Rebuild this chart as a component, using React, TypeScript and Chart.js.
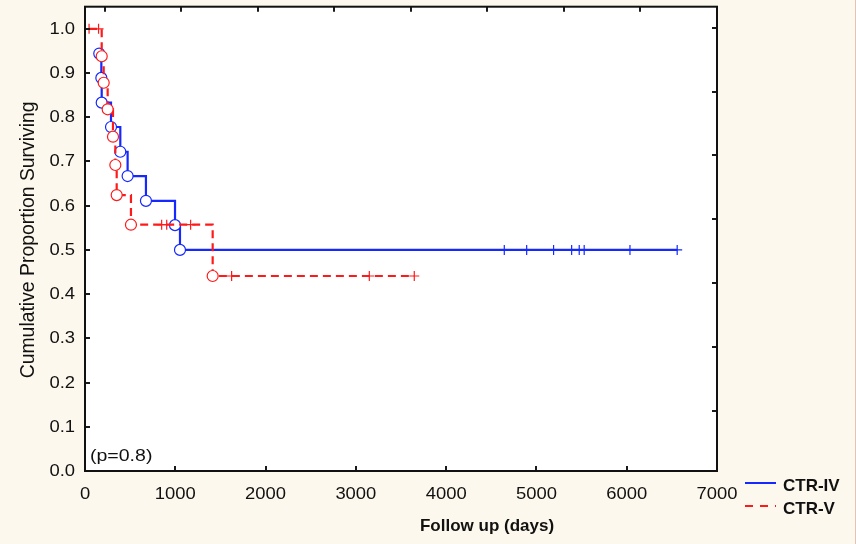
import React, { useEffect, useRef } from "react";
import { Chart, registerables } from "chart.js";

Chart.register(...registerables);

// Kaplan-Meier estimates: follow-up day, survival proportion, censored flag (1 = censored "+")
const ivDays = [158, 181, 185, 288, 391, 472, 675, 997, 1052, 4644, 4892, 5190, 5390, 5474, 5529, 6036, 6559];
const ivSurvival = [0.944, 0.889, 0.833, 0.778, 0.722, 0.667, 0.611, 0.556, 0.5, 0.5, 0.5, 0.5, 0.5, 0.5, 0.5, 0.5, 0.5];
const ivCensored = [0, 0, 0, 0, 0, 0, 0, 0, 0, 1, 1, 1, 1, 1, 1, 1, 1];

const vDays = [45, 150, 185, 207, 251, 310, 336, 351, 509, 849, 905, 1170, 1414, 1624, 3149, 3647];
const vSurvival = [1, 1, 0.938, 0.878, 0.818, 0.756, 0.692, 0.624, 0.557, 0.557, 0.557, 0.557, 0.441, 0.441, 0.441, 0.441];
const vCensored = [1, 1, 0, 0, 0, 0, 0, 0, 0, 1, 1, 1, 0, 1, 1, 1];

const seriesNames = ["CTR-IV", "CTR-V"];
const seriesColors = ["#1428ff", "#ff1a1a"];

const xTickValues = [0, 1000, 2000, 3000, 4000, 5000, 6000, 7000];
const yTickValues = [0, 0.1, 0.2, 0.3, 0.4, 0.5, 0.6, 0.7, 0.8, 0.9, 1.0];
// tick marks of the opposite (top / right) frame axes
const topTickValues = [0, 1, 2, 3, 4, 5, 6, 7];
const rightTickValues = [0, 1, 2, 3, 4, 5, 6];

const xTitle = "Follow up (days)";
const yTitle = "Cumulative Proportion Surviving";
const pValueLabel = "(p=0.8)";

const PAGE_BG = "#fdf8ed";
const TEXT = "#111111";

function drawText(
  ctx: CanvasRenderingContext2D,
  text: string,
  x: number,
  y: number,
  font: string,
  align: CanvasTextAlign,
  sx = 1
) {
  ctx.save();
  ctx.translate(x, y);
  ctx.scale(sx, 1);
  ctx.font = font;
  ctx.fillStyle = TEXT;
  ctx.textAlign = align;
  ctx.textBaseline = "alphabetic";
  ctx.fillText(text, 0, 0);
  ctx.restore();
}

const framePlugin = {
  id: "frame",
  beforeDraw(chart: any) {
    const { ctx, width, height, chartArea: a } = chart;
    ctx.save();
    ctx.fillStyle = PAGE_BG;
    ctx.fillRect(0, 0, width, height);
    ctx.fillStyle = "#e2c4b6";
    ctx.fillRect(width - 1, 0, 1, height);
    ctx.fillStyle = "#ffffff";
    ctx.fillRect(a.left, a.top, a.right - a.left, a.bottom - a.top);
    ctx.restore();
  },
  afterDraw(chart: any) {
    const { ctx, chartArea: a, scales } = chart;
    const x = scales.x;
    const y = scales.y;
    const xt = scales.xTop;
    const yr = scales.yRight;
    const tickLen = 5;

    ctx.save();
    // inward tick marks
    ctx.strokeStyle = "#1a1a1a";
    ctx.lineWidth = 2;
    ctx.beginPath();
    yTickValues.forEach((v) => {
      const py = Math.round(y.getPixelForValue(v));
      ctx.moveTo(a.left, py);
      ctx.lineTo(a.left + tickLen, py);
    });
    xTickValues.forEach((v) => {
      const px = Math.round(x.getPixelForValue(v));
      ctx.moveTo(px, a.bottom);
      ctx.lineTo(px, a.bottom - tickLen);
    });
    topTickValues.forEach((v) => {
      const px = Math.round(xt.getPixelForValue(v));
      ctx.moveTo(px, a.top);
      ctx.lineTo(px, a.top + tickLen);
    });
    rightTickValues.forEach((v) => {
      const py = Math.round(yr.getPixelForValue(v));
      ctx.moveTo(a.right, py);
      ctx.lineTo(a.right - tickLen, py);
    });
    ctx.stroke();

    // plot frame
    ctx.strokeStyle = "#111111";
    ctx.lineWidth = 2;
    ctx.strokeRect(a.left, a.top, a.right - a.left, a.bottom - a.top);
    ctx.restore();

    // tick labels
    const tickFont = "16px 'Liberation Sans', Arial, sans-serif";
    yTickValues.forEach((v) => {
      drawText(ctx, v.toFixed(1), a.left - 10, y.getPixelForValue(v) + 5, tickFont, "right", 1.15);
    });
    xTickValues.forEach((v) => {
      drawText(ctx, String(v), x.getPixelForValue(v), a.bottom + 28, tickFont, "center", 1.15);
    });

    // annotation and axis titles
    drawText(ctx, pValueLabel, a.left + 5, a.bottom - 10, "16px 'Liberation Sans', Arial, sans-serif", "left", 1.22);
    drawText(ctx, xTitle, (a.left + a.right) / 2 + 86, 531, "bold 17px 'Liberation Sans', Arial, sans-serif", "center");

    ctx.save();
    ctx.translate(34, (a.top + a.bottom) / 2 + 1);
    ctx.rotate(-Math.PI / 2);
    ctx.font = "19.4px 'Liberation Sans', Arial, sans-serif";
    ctx.fillStyle = TEXT;
    ctx.textAlign = "center";
    ctx.textBaseline = "alphabetic";
    ctx.fillText(yTitle, 0, 0);
    ctx.restore();

    // legend
    const legendFont = "bold 17px 'Liberation Sans', Arial, sans-serif";
    const rows = [483, 506];
    seriesNames.forEach((name, i) => {
      const ly = rows[i];
      ctx.save();
      ctx.strokeStyle = seriesColors[i];
      ctx.lineWidth = 2;
      if (i === 1) ctx.setLineDash([8, 7]);
      ctx.beginPath();
      ctx.moveTo(745, ly);
      ctx.lineTo(776, ly);
      ctx.stroke();
      ctx.restore();
      drawText(ctx, name, 783, ly + 7.5, legendFont, "left");
    });
  },
};

function fixedSize(size: number) {
  return (scale: any) => {
    if (scale.isHorizontal()) scale.height = size;
    else scale.width = size;
  };
}

export default function App() {
  const canvasRef = useRef<HTMLCanvasElement | null>(null);

  useEffect(() => {
    const canvas = canvasRef.current;
    if (!canvas) return;

    const makeSeries = (days: number[], surv: number[], cens: number[], i: number, dashed: boolean) => ({
      label: seriesNames[i],
      data: days.map((d, k) => ({ x: d, y: surv[k] })),
      borderColor: seriesColors[i],
      borderWidth: 2.2,
      borderDash: dashed ? [8, 5] : [],
      stepped: true,
      fill: false,
      pointStyle: cens.map((c) => (c ? "cross" : "circle")),
      pointRadius: cens.map((c) => (c ? 5 : 5.5)),
      pointBorderWidth: 1.2,
      pointBackgroundColor: "#ffffff",
      pointBorderColor: seriesColors[i],
      xAxisID: "x",
      yAxisID: "y",
      order: i === 0 ? 2 : 1,
    });

    const chart = new Chart(canvas, {
      type: "line",
      data: {
        datasets: [
          makeSeries(ivDays, ivSurvival, ivCensored, 0, false),
          makeSeries(vDays, vSurvival, vCensored, 1, true),
        ],
      },
      options: {
        responsive: false,
        animation: false,
        devicePixelRatio: 1,
        events: [],
        layout: { padding: 0 },
        plugins: { legend: { display: false }, tooltip: { enabled: false } },
        scales: {
          x: {
            type: "linear",
            position: "bottom",
            min: 0,
            max: 7000,
            grid: { display: false },
            border: { display: false },
            ticks: { display: false },
            afterBuildTicks: (s: any) => {
              s.ticks = xTickValues.map((v) => ({ value: v }));
            },
            afterFit: fixedSize(73),
          },
          y: {
            type: "linear",
            position: "left",
            min: 0,
            max: 1.05,
            grid: { display: false },
            border: { display: false },
            ticks: { display: false },
            afterBuildTicks: (s: any) => {
              s.ticks = yTickValues.map((v) => ({ value: v }));
            },
            afterFit: fixedSize(85),
          },
          xTop: {
            type: "linear",
            position: "top",
            min: -0.26,
            max: 8,
            grid: { display: false },
            border: { display: false },
            ticks: { display: false },
            afterFit: fixedSize(4),
          },
          yRight: {
            type: "linear",
            position: "right",
            min: -0.936,
            max: 6.327,
            grid: { display: false },
            border: { display: false },
            ticks: { display: false },
            afterFit: fixedSize(139),
          },
        },
      } as any,
      plugins: [framePlugin],
    });

    return () => chart.destroy();
  }, []);

  return (
    <div style={{ position: "fixed", left: 0, top: 0, width: 856, height: 544 }}>
      <canvas ref={canvasRef} width={856} height={544} style={{ display: "block" }} />
    </div>
  );
}
